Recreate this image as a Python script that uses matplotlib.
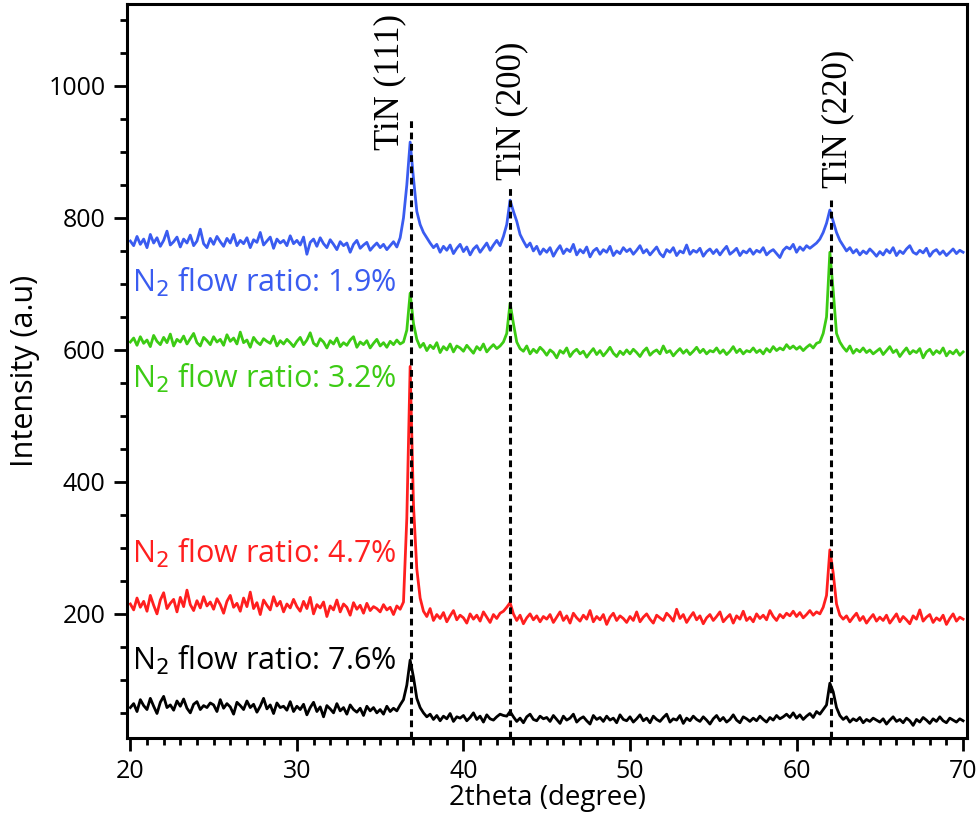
import numpy as np
import matplotlib
matplotlib.use("Agg")
import matplotlib.pyplot as plt
from matplotlib.ticker import MultipleLocator, FixedLocator

# 2theta grid (degree), step 0.2
two_theta = np.round(np.arange(20.0, 70.0001, 0.2), 2)

ratio_7_6 = [
    58, 64, 52, 70, 61, 55, 72, 60, 49, 66, 75, 58, 62, 54, 68, 60, 71, 57, 50, 63, 67, 55, 61, 58, 65,
    62, 52, 70, 57, 64, 59, 48, 66, 61, 55, 68, 58, 63, 51, 60, 72, 56, 62, 49, 65, 58, 60, 54, 67, 52,
    60, 55, 63, 47, 58, 66, 52, 59, 44, 61, 56, 50, 64, 53, 58, 48, 62, 55, 51, 57, 46, 60, 53, 58, 50,
    55, 48, 60, 52, 57, 53, 62, 70, 92, 130, 104, 72, 58, 50, 44, 48, 40, 46, 38, 45, 41, 49, 37, 44, 42,
    46, 38, 43, 50, 40, 45, 36, 47, 41, 39, 44, 48, 46, 45, 52, 44, 37, 42, 35, 44, 48, 40, 38, 45, 41,
    43, 37, 46, 40, 34, 45, 39, 42, 48, 36, 41, 44, 38, 33, 46, 40, 43, 37, 45, 39, 42, 35, 47, 40, 38,
    44, 36, 41, 47, 38, 42, 35, 45, 40, 37, 43, 48, 36, 41, 39, 46, 34, 42, 38, 45, 40, 37, 44, 39, 33,
    41, 46, 38, 43, 36, 40, 47, 39, 35, 44, 41, 37, 42, 38, 45, 40, 36, 43, 39, 46, 41, 44, 48, 43, 50,
    42, 47, 40, 45, 49, 43, 52, 48, 55, 62, 95, 82, 58, 46, 40, 44, 36, 41, 38, 43, 35, 40, 37, 42, 39,
    36, 41, 33, 39, 44, 37, 40, 35, 42, 38, 31, 40, 36, 43, 39, 34, 41, 37, 44, 38, 35, 42, 39, 36, 41,
    38,
]

ratio_4_7 = [
    215, 206, 224, 210, 219, 204, 228, 213, 200, 221, 232, 208, 216, 222, 203, 225, 211, 236, 214, 205, 220, 209, 226, 212, 218,
    207, 223, 214, 201, 219, 228, 210, 216, 204, 224, 211, 233, 208, 217, 199, 221, 213, 206, 226, 212, 219, 203, 215, 209, 222,
    211, 204, 219, 208, 225, 200, 214, 209, 218, 196, 212, 206, 221, 203, 215, 210, 198, 217, 207, 213, 201, 216, 205, 211, 208,
    203, 214, 206, 210, 199, 212, 207, 218, 345, 575, 365, 268, 224, 204, 196, 208, 190, 199, 193, 202, 188, 197, 205, 191, 198,
    194, 186, 200, 192, 198, 189, 203, 195, 187, 199, 193, 201, 204, 210, 217, 200, 190, 198, 185, 194, 200, 191, 197, 188, 196,
    192, 199, 187, 195, 203, 190, 197, 186, 201, 194, 189, 198, 192, 205, 188, 196, 191, 199, 184, 195, 201, 190, 197, 193, 187,
    196, 190, 203, 188, 195, 200, 192, 186, 198, 194, 190, 201, 196, 189, 207, 193, 199, 187, 195, 202, 191, 197, 185, 194, 199,
    190, 196, 203, 188, 194, 199, 186, 197, 192, 204, 190, 195, 188, 200, 193, 198, 191, 205, 196, 190, 199, 194, 201, 197, 204,
    196, 202, 194, 199, 205, 198, 203, 200, 210, 228, 297, 262, 215, 198, 192, 197, 188, 195, 201, 190, 196, 186, 193, 199, 189,
    195, 190, 198, 186, 193, 200, 188, 196, 191, 185, 197, 192, 206, 189, 195, 199, 187, 194, 190, 198, 184, 193, 200, 189, 195,
    192,
]

ratio_3_2 = [
    612, 618, 607, 620, 610, 615, 605, 622, 613, 608, 619, 611, 624, 606, 616, 612, 621, 609, 617, 625, 611, 606, 619, 614, 608,
    620, 612, 616, 607, 623, 613, 618, 609, 627, 611, 615, 604, 619, 612, 608, 617, 613, 610, 621, 606, 614, 609, 616, 611, 605,
    613, 619, 608, 615, 626, 610, 606, 617, 612, 603, 614, 609, 618, 605, 611, 607, 615, 620, 604, 612, 608, 614, 603, 610, 616,
    606, 611, 604, 613, 608, 615, 609, 612, 630, 686, 640, 616, 604, 610, 599, 607, 602, 611, 596, 605, 600, 609, 597, 606, 603,
    598, 607, 601, 595, 605, 600, 609, 597, 603, 608, 602, 606, 612, 625, 671, 640, 612, 602, 598, 606, 594, 601, 596, 604, 599,
    592, 600, 596, 588, 599, 595, 603, 590, 597, 601, 594, 598, 589, 596, 602, 593, 599, 591, 597, 604, 595, 590, 598, 593, 600,
    594, 601, 596, 590, 598, 603, 592, 597, 600, 594, 606, 596, 599, 591, 597, 602, 595, 600, 593, 598, 604, 596, 601, 594, 599,
    597, 603, 595, 600, 593, 598, 605, 596, 601, 594, 599, 597, 603, 596, 600, 594, 602, 597, 605, 599, 603, 600, 608, 602, 606,
    601, 605, 599, 604, 608, 603, 610, 612, 625, 650, 748, 690, 625, 612, 604, 598, 606, 595, 601, 597, 603, 596, 600, 594, 598,
    602, 593, 599, 605, 596, 600, 590, 597, 603, 594, 599, 596, 602, 588, 597, 601, 593, 599, 595, 603, 591, 598, 594, 600, 592,
    597,
]

ratio_1_9 = [
    765, 758, 772, 760, 768, 755, 775, 762, 770, 757, 766, 780, 759, 764, 771, 756, 768, 762, 774, 758, 765, 783, 761, 755, 769,
    760, 772, 764, 757, 769, 762, 775, 758, 766, 761, 770, 755, 767, 763, 778, 759, 765, 771, 754, 768, 762, 766, 758, 773, 761,
    766, 759, 771, 745, 763, 768, 757, 770, 761, 755, 767, 760, 752, 764, 758, 762, 748, 760, 766, 754, 759, 763, 751, 757, 762,
    755, 760, 752, 758, 764, 756, 770, 800, 850, 915, 860, 810, 790, 778, 770, 762, 755, 760, 748, 757, 751, 759, 746, 754, 760,
    749, 756, 744, 753, 758, 748, 755, 762, 751, 759, 766, 758, 772, 790, 827, 810, 795, 775, 765, 756, 762, 750, 757, 745, 753,
    748, 755, 742, 751, 758, 746, 753, 749, 760, 744, 752, 747, 756, 741, 750, 754, 745, 752, 748, 757, 743, 750, 746, 755, 749,
    753, 745, 751, 758, 747, 752, 744, 750, 756, 746, 741, 752, 748, 755, 743, 750, 747, 759, 745, 751, 748, 754, 742, 749, 753,
    746, 752, 744, 751, 757, 745, 749, 754, 743, 750, 747, 753, 745, 751, 748, 755, 744, 749, 752, 746, 740, 751, 756, 753, 760,
    748, 756, 751, 758, 754, 758, 762, 768, 778, 792, 812, 795, 778, 766, 758, 750, 755, 747, 752, 744, 750, 746, 753, 748, 742,
    749, 744, 752, 747, 755, 743, 750, 746, 753, 758, 748, 745, 751, 747, 754, 742, 749, 752, 745, 750, 743, 748, 753, 746, 751,
    748,
]

series_labels = ["7.6%", "4.7%", "3.2%", "1.9%"]
series_colors = ["#000000", "#FF1F1F", "#3CCB14", "#3A5CF0"]
label_baselines = [115, 277, 542, 688]

peak_names = ["TiN (111)", "TiN (200)", "TiN (220)"]
peak_positions = [36.85, 42.8, 62.05]
peak_line_tops = [948, 847, 827]
peak_text_x = [35.6, 42.9, 62.5]
peak_text_y = [903, 858, 845]

fig = plt.figure(figsize=(9.8, 8.31), dpi=100)
ax = fig.add_axes([0.1296, 0.112, 0.987 - 0.1296, 0.995 - 0.112])

sans = "Open Sans"

for yvals, col in zip([ratio_7_6, ratio_4_7, ratio_3_2, ratio_1_9], series_colors):
    ax.plot(two_theta, yvals, color=col, lw=2.0, zorder=2)

ylo, yhi = 12, 1124
for px, top in zip(peak_positions, peak_line_tops):
    ax.plot([px, px], [ylo, top], color="black", lw=2.2,
            linestyle=(0, (2.2, 1.5)), zorder=3)

for name, tx, ty in zip(peak_names, peak_text_x, peak_text_y):
    ax.text(tx, ty, name, rotation=90, ha="center", va="bottom",
            fontsize=25, family="Liberation Serif", color="black")

for lab, col, yb in zip(series_labels, series_colors, label_baselines):
    ax.text(20.1, yb, "N$_2$ flow ratio: " + lab, color=col, fontsize=22,
            family=sans, ha="left", va="baseline")

ax.set_xlim(19.8, 70.25)
ax.set_ylim(ylo, yhi)

ax.xaxis.set_major_locator(MultipleLocator(10))
ax.xaxis.set_minor_locator(MultipleLocator(1))
ax.yaxis.set_major_locator(FixedLocator([200, 400, 600, 800, 1000]))
ax.yaxis.set_minor_locator(MultipleLocator(50))

ax.tick_params(axis="both", which="major", direction="out", length=9.5,
               width=2.0, labelsize=18, pad=6)
ax.tick_params(axis="both", which="minor", direction="out", length=5,
               width=2.0)
ax.tick_params(top=False, right=False)
for lab in ax.get_xticklabels() + ax.get_yticklabels():
    lab.set_family(sans)

for sp in ax.spines.values():
    sp.set_linewidth(2.2)

ax.set_xlabel("2theta (degree)", fontsize=20, family=sans, labelpad=0)
ax.set_ylabel("Intensity (a.u)", fontsize=22, family=sans, labelpad=6)

fig.savefig("out.png", dpi=100)
